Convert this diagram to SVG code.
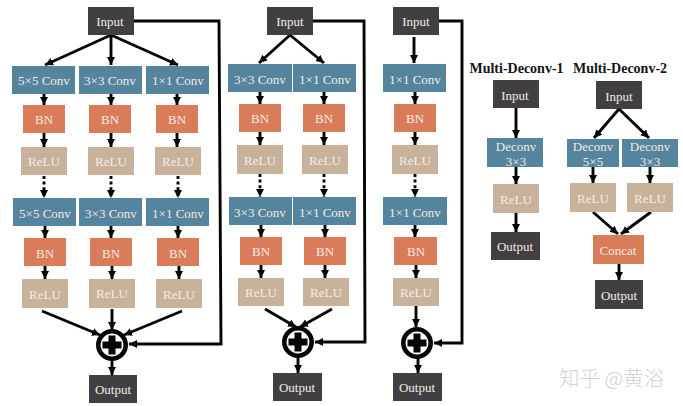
<svg xmlns="http://www.w3.org/2000/svg" width="683" height="406" viewBox="0 0 683 406">
<style>
text{font-family:"Liberation Serif","Noto Sans CJK SC",serif;font-size:13px;text-anchor:middle;fill:#f3ebe2}
.d{fill:#423f42}.b{fill:#55849e}.o{fill:#d97c5a}.r{fill:#c9b29c}
text.t{font-weight:bold;fill:#141414;font-size:14px}
text.w{font-family:"Noto Sans CJK SC",sans-serif;font-weight:300;fill:#d2d2d2;font-size:20.500px;text-anchor:start}
.c line,.c polyline{fill:none;stroke:#050505;stroke-width:2.900;marker-end:url(#a)}
.c .n{stroke-dasharray:3 2.600}
.s{fill:#fff;stroke:#050505;stroke-width:4.600}
.p{fill:#050505}
</style>
<defs>
<marker id="a" markerUnits="userSpaceOnUse" markerWidth="9" markerHeight="9" refX="8" refY="4" orient="auto"><path d="M0 0L8 4L0 8Z" fill="#050505"/></marker>
<path id="plus" d="M-3.500-9.500H3.500V-3.500H9.500V3.500H3.500V9.500H-3.500V3.500H-9.500V-3.500H-3.500Z"/>
</defs>
<rect width="683" height="406" fill="#fff"/>

<g id="connectors" class="c">
<line x1="111" y1="35" x2="45" y2="65"/><line x1="111" y1="35" x2="111" y2="65"/><line x1="111" y1="35" x2="178" y2="65"/>
<line x1="44" y1="94" x2="44" y2="105"/><line x1="111" y1="94" x2="111" y2="105"/><line x1="177" y1="94" x2="177" y2="105"/>
<line x1="44" y1="133" x2="44" y2="147"/><line x1="111" y1="133" x2="111" y2="147"/><line x1="177" y1="133" x2="177" y2="147"/>
<line class="n" x1="44" y1="176" x2="44" y2="198"/><line class="n" x1="111" y1="176" x2="111" y2="198"/><line class="n" x1="178" y1="176" x2="178" y2="198"/>
<line x1="45" y1="226" x2="45" y2="238"/><line x1="111" y1="226" x2="111" y2="238"/><line x1="178" y1="226" x2="178" y2="238"/>
<line x1="45" y1="266" x2="45" y2="279"/><line x1="112" y1="266" x2="112" y2="279"/><line x1="179" y1="266" x2="179" y2="279"/>
<line x1="42" y1="311" x2="100" y2="335"/><line x1="112" y1="309" x2="112" y2="330"/><line x1="182" y1="311" x2="124" y2="335"/>
<line x1="112" y1="361" x2="112" y2="375"/>
<polyline points="134,21 219,21 221,344 129,344"/>

<line x1="290" y1="35" x2="259" y2="63"/><line x1="290" y1="35" x2="324" y2="63"/>
<line x1="260" y1="92" x2="260" y2="104"/><line x1="324" y1="92" x2="324" y2="104"/>
<line x1="260" y1="132" x2="260" y2="145"/><line x1="324" y1="132" x2="324" y2="145"/>
<line class="n" x1="260" y1="174" x2="260" y2="197"/><line class="n" x1="324" y1="174" x2="324" y2="197"/>
<line x1="261" y1="225" x2="261" y2="237"/><line x1="325" y1="225" x2="325" y2="237"/>
<line x1="261" y1="265" x2="261" y2="278"/><line x1="325" y1="265" x2="325" y2="278"/>
<line x1="265" y1="309" x2="296" y2="327"/><line x1="332" y1="309" x2="300" y2="327"/>
<line x1="298" y1="358" x2="298" y2="373"/>
<polyline points="313,21 364,21 365,342 315,342"/>

<line x1="414" y1="37" x2="414" y2="63"/>
<line x1="415" y1="92" x2="415" y2="104"/><line x1="415" y1="132" x2="415" y2="145"/>
<line class="n" x1="415" y1="174" x2="415" y2="197"/>
<line x1="415" y1="225" x2="415" y2="237"/><line x1="416" y1="265" x2="416" y2="278"/>
<line x1="416" y1="306" x2="416" y2="327"/><line x1="418" y1="358" x2="418" y2="373"/>
<polyline points="439,21 462,21 462,343 434,343"/>

<line x1="516" y1="108" x2="516" y2="138"/><line x1="516" y1="167" x2="516" y2="184"/><line x1="516" y1="213" x2="516" y2="232"/>
<line x1="619" y1="109" x2="594" y2="138"/><line x1="619" y1="109" x2="649" y2="138"/>
<line x1="593" y1="167" x2="593" y2="183"/><line x1="650" y1="167" x2="650" y2="183"/>
<line x1="593" y1="212" x2="618" y2="234"/><line x1="651" y1="212" x2="621" y2="234"/>
<line x1="619" y1="264" x2="619" y2="280"/>
</g>

<g id="a-input"><rect class="d" x="88" y="7" width="46" height="28"/><text x="110" y="26">Input</text></g>
<g id="a-conv5"><rect class="b" x="12" y="66" width="63" height="28"/><text x="44" y="85">5×5 Conv</text></g>
<g id="a-conv3"><rect class="b" x="79" y="66" width="63" height="28"/><text x="110" y="85">3×3 Conv</text></g>
<g id="a-conv1"><rect class="b" x="146" y="66" width="63" height="28"/><text x="178" y="85">1×1 Conv</text></g>
<g id="a-bn1"><rect class="o" x="23" y="105" width="42" height="28"/><text x="44" y="124">BN</text></g>
<g id="a-bn2"><rect class="o" x="89" y="105" width="42" height="28"/><text x="110" y="124">BN</text></g>
<g id="a-bn3"><rect class="o" x="156" y="105" width="42" height="28"/><text x="177" y="124">BN</text></g>
<g id="a-relu1"><rect class="r" x="21" y="147" width="46" height="28"/><text x="44" y="166">ReLU</text></g>
<g id="a-relu2"><rect class="r" x="88" y="147" width="46" height="28"/><text x="111" y="166">ReLU</text></g>
<g id="a-relu3"><rect class="r" x="155" y="147" width="46" height="28"/><text x="178" y="166">ReLU</text></g>
<g id="a-conv5b"><rect class="b" x="13" y="198" width="63" height="28"/><text x="45" y="218">5×5 Conv</text></g>
<g id="a-conv3b"><rect class="b" x="79" y="198" width="63" height="28"/><text x="111" y="218">3×3 Conv</text></g>
<g id="a-conv1b"><rect class="b" x="146" y="198" width="63" height="28"/><text x="178" y="218">1×1 Conv</text></g>
<g id="a-bn1b"><rect class="o" x="24" y="238" width="42" height="28"/><text x="45" y="258">BN</text></g>
<g id="a-bn2b"><rect class="o" x="90" y="238" width="42" height="28"/><text x="111" y="258">BN</text></g>
<g id="a-bn3b"><rect class="o" x="157" y="238" width="42" height="28"/><text x="178" y="258">BN</text></g>
<g id="a-relu1b"><rect class="r" x="22" y="279" width="46" height="29"/><text x="45" y="299">ReLU</text></g>
<g id="a-relu2b"><rect class="r" x="89" y="279" width="46" height="29"/><text x="112" y="298">ReLU</text></g>
<g id="a-relu3b"><rect class="r" x="156" y="279" width="46" height="29"/><text x="179" y="299">ReLU</text></g>
<g id="a-add"><circle class="s" cx="112" cy="345" r="13.700"/><use href="#plus" class="p" x="112" y="345"/></g>
<g id="a-output"><rect class="d" x="89" y="375" width="48" height="28"/><text x="113" y="394">Output</text></g>

<g id="b-input"><rect class="d" x="267" y="7" width="46" height="28"/><text x="290" y="26">Input</text></g>
<g id="b-conv3"><rect class="b" x="228" y="64" width="64" height="28"/><text x="260" y="84">3×3 Conv</text></g>
<g id="b-conv1"><rect class="b" x="293" y="64" width="63" height="28"/><text x="325" y="84">1×1 Conv</text></g>
<g id="b-bn1"><rect class="o" x="239" y="104" width="42" height="28"/><text x="260" y="123">BN</text></g>
<g id="b-bn2"><rect class="o" x="303" y="104" width="42" height="28"/><text x="324" y="123">BN</text></g>
<g id="b-relu1"><rect class="r" x="237" y="145" width="46" height="29"/><text x="260" y="165">ReLU</text></g>
<g id="b-relu2"><rect class="r" x="302" y="145" width="46" height="29"/><text x="325" y="165">ReLU</text></g>
<g id="b-conv3b"><rect class="b" x="229" y="197" width="63" height="28"/><text x="260" y="217">3×3 Conv</text></g>
<g id="b-conv1b"><rect class="b" x="293" y="197" width="63" height="28"/><text x="325" y="217">1×1 Conv</text></g>
<g id="b-bn1b"><rect class="o" x="240" y="237" width="42" height="28"/><text x="261" y="256">BN</text></g>
<g id="b-bn2b"><rect class="o" x="304" y="237" width="42" height="28"/><text x="325" y="256">BN</text></g>
<g id="b-relu1b"><rect class="r" x="238" y="278" width="46" height="28"/><text x="261" y="297">ReLU</text></g>
<g id="b-relu2b"><rect class="r" x="303" y="278" width="46" height="28"/><text x="326" y="297">ReLU</text></g>
<g id="b-add"><circle class="s" cx="298" cy="342" r="13.700"/><use href="#plus" class="p" x="298" y="342"/></g>
<g id="b-output"><rect class="d" x="273" y="373" width="49" height="28"/><text x="297" y="392">Output</text></g>

<g id="c-input"><rect class="d" x="393" y="7" width="46" height="28"/><text x="416" y="26">Input</text></g>
<g id="c-conv1"><rect class="b" x="383" y="64" width="63" height="28"/><text x="415" y="84">1×1 Conv</text></g>
<g id="c-bn"><rect class="o" x="394" y="104" width="42" height="28"/><text x="415" y="123">BN</text></g>
<g id="c-relu"><rect class="r" x="392" y="145" width="46" height="29"/><text x="415" y="165">ReLU</text></g>
<g id="c-conv1b"><rect class="b" x="383" y="197" width="64" height="28"/><text x="415" y="217">1×1 Conv</text></g>
<g id="c-bnb"><rect class="o" x="394" y="237" width="43" height="28"/><text x="416" y="256">BN</text></g>
<g id="c-relub"><rect class="r" x="393" y="278" width="46" height="28"/><text x="416" y="297">ReLU</text></g>
<g id="c-add"><circle class="s" cx="417" cy="343" r="13.700"/><use href="#plus" class="p" x="417" y="343"/></g>
<g id="c-output"><rect class="d" x="393" y="373" width="49" height="28"/><text x="417" y="392">Output</text></g>

<text class="t" x="516.500" y="73">Multi-Deconv-1</text>
<text class="t" x="620" y="73">Multi-Deconv-2</text>

<g id="d-input"><rect class="d" x="493" y="80" width="46" height="28"/><text x="515" y="100">Input</text></g>
<g id="d-deconv"><rect class="b" x="487" y="138" width="56" height="29"/><text x="516" y="151">Deconv</text><text x="516" y="166">3×3</text></g>
<g id="d-relu"><rect class="r" x="493" y="184" width="46" height="29"/><text x="516" y="204">ReLU</text></g>
<g id="d-output"><rect class="d" x="491" y="232" width="49" height="28"/><text x="515" y="251">Output</text></g>

<g id="e-input"><rect class="d" x="596" y="81" width="46" height="28"/><text x="619" y="101">Input</text></g>
<g id="e-deconv5"><rect class="b" x="567" y="139" width="52" height="28"/><text x="593" y="151">Deconv</text><text x="593" y="166">5×5</text></g>
<g id="e-deconv3"><rect class="b" x="622" y="139" width="56" height="28"/><text x="650" y="151">Deconv</text><text x="650" y="166">3×3</text></g>
<g id="e-relu1"><rect class="r" x="570" y="183" width="46" height="29"/><text x="593" y="203">ReLU</text></g>
<g id="e-relu2"><rect class="r" x="627" y="183" width="46" height="29"/><text x="650" y="203">ReLU</text></g>
<g id="e-concat"><rect class="o" x="593" y="235" width="51" height="29"/><text x="618" y="255">Concat</text></g>
<g id="e-output"><rect class="d" x="595" y="280" width="48" height="29"/><text x="619" y="300">Output</text></g>

<text class="w" x="559" y="386">知乎 @黄浴</text>
</svg>
